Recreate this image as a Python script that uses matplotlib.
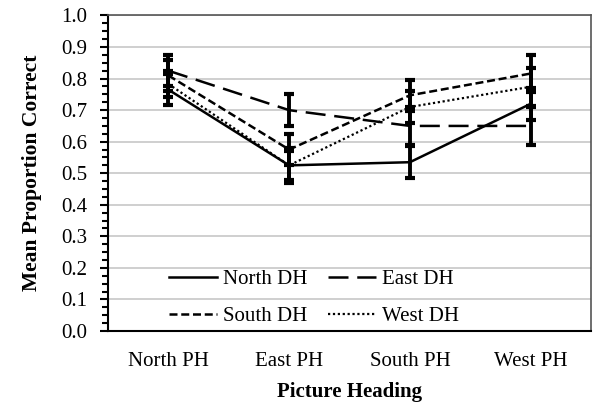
import numpy as np
import matplotlib
matplotlib.use("Agg")
import matplotlib.pyplot as plt
from matplotlib.ticker import MultipleLocator

categories = ["North PH", "East PH", "South PH", "West PH"]
series = ["North DH", "East DH", "South DH", "West DH"]

# mean proportion correct per display heading (rows) at each picture heading (cols)
north_dh = [0.765, 0.525, 0.535, 0.720]
east_dh = [0.825, 0.700, 0.650, 0.650]
south_dh = [0.810, 0.575, 0.747, 0.816]
west_dh = [0.783, 0.525, 0.710, 0.774]

north_err = [0.050, 0.055, 0.050, 0.050]
east_err = [0.050, 0.050, 0.060, 0.060]
south_err = [0.050, 0.050, 0.050, 0.060]
west_err = [0.040, 0.045, 0.050, 0.060]

plt.rcParams["font.family"] = ["Liberation Serif", "DejaVu Serif"]

fig = plt.figure(figsize=(5.93, 4.04), dpi=100)
ax = fig.add_axes([108 / 593, 1 - 331 / 404, 483 / 593, 315.5 / 404])

x = np.arange(len(categories)) + 0.5
styles = [
    dict(ls="-", lw=1.8),
    dict(ls=(0, (8, 3.5)), lw=1.8),
    dict(ls=(0, (3.2, 1.5)), lw=1.8),
    dict(ls=(0, (1, 1.2)), lw=1.6),
]
vals = [north_dh, east_dh, south_dh, west_dh]
errs = [north_err, east_err, south_err, west_err]

handles = []
for name, v, e, st in zip(series, vals, errs, styles):
    h, = ax.plot(x, v, color="black", label=name, zorder=3, **st)
    handles.append(h)
    ax.errorbar(x, v, yerr=e, fmt="none", ecolor="black", elinewidth=2.8,
                capsize=3.5, capthick=3, zorder=4)

ax.set_xlim(0, 4)
ax.set_ylim(0, 1.0)
ax.set_xticks(x)
ax.set_xticklabels(categories, fontsize=15)
ax.tick_params(axis="x", length=0, pad=15)
ax.yaxis.set_minor_locator(MultipleLocator(0.025))
yt = np.arange(0, 1.01, 0.1)
ax.set_yticks(yt)
ax.set_yticklabels([f"{t:.1f}" for t in yt], fontsize=15)
ax.tick_params(axis="y", which="major", length=6, width=1.5, direction="out", pad=9)
ax.tick_params(axis="y", which="minor", length=4, width=1.5, direction="out")
ax.yaxis.grid(True, which="major", color="#cccccc", lw=1.3)
ax.set_axisbelow(True)

for side in ["top", "right"]:
    ax.spines[side].set_color("#555555")
    ax.spines[side].set_linewidth(1.2)
ax.spines["left"].set_linewidth(1.5)
ax.spines["bottom"].set_linewidth(1.5)

ax.set_xlabel("Picture Heading", fontsize=15, fontweight="bold", labelpad=8)
ax.set_ylabel("Mean Proportion Correct", fontsize=15.5, fontweight="bold", labelpad=14)

# legend fills column-wise: North/South in col 1, East/West in col 2
order = [0, 2, 1, 3]
ax.legend([handles[i] for i in order], [series[i] for i in order],
          loc="center", bbox_to_anchor=(314 / 593, 1 - 298 / 404),
          bbox_transform=fig.transFigure, ncol=2, frameon=False, borderpad=0,
          fontsize=15, handlelength=2.3, handletextpad=0.3, columnspacing=1.0,
          labelspacing=0.85)

fig.savefig("out.png", dpi=100)
